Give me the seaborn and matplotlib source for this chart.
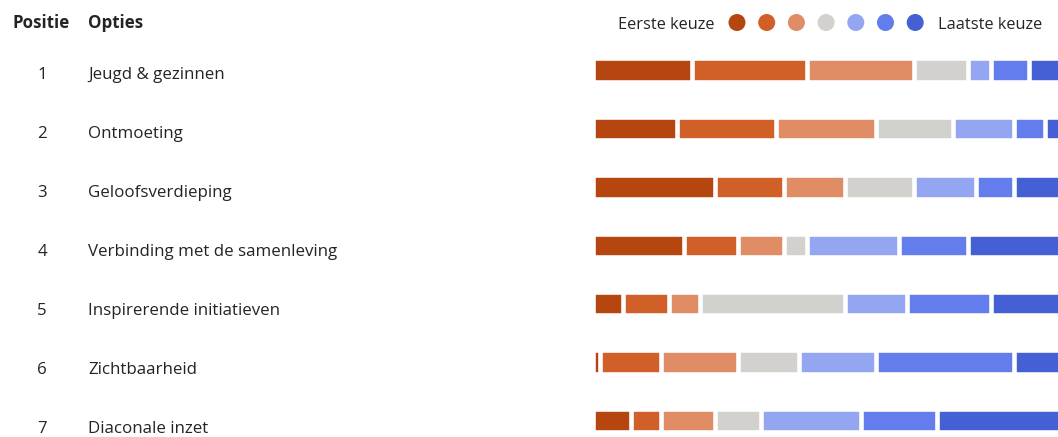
import numpy as np
import pandas as pd
import matplotlib
matplotlib.use("Agg")
import matplotlib.pyplot as plt
import seaborn as sns

# ---- data ----
positions = ["1", "2", "3", "4", "5", "6", "7"]
options = ["Jeugd & gezinnen", "Ontmoeting", "Geloofsverdieping",
           "Verbinding met de samenleving", "Inspirerende initiatieven",
           "Zichtbaarheid", "Diaconale inzet"]
rank1 = [13, 11, 16, 12, 4, 1, 5]
rank2 = [15, 13, 9, 7, 6, 8, 4]
rank3 = [14, 13, 8, 6, 4, 10, 7]
rank4 = [7, 10, 9, 3, 19, 8, 6]
rank5 = [3, 8, 8, 12, 8, 10, 13]
rank6 = [5, 4, 5, 9, 11, 18, 10]
rank7 = [5, 3, 7, 13, 10, 7, 17]
legend_left = "Eerste keuze"
legend_right = "Laatste keuze"
header_pos = "Positie"
header_opt = "Opties"

colors = ["#B54610", "#D06028", "#E08C64", "#D2D1CE", "#94A5F2", "#637DED", "#4560D4"]
text_color = "#252423"

W, H = 1058, 437
DPI = 100
sns.set_theme(style="white")
plt.rcParams['font.family'] = ['Open Sans', 'DejaVu Sans']

fig = plt.figure(figsize=(W / DPI, H / DPI), dpi=DPI)
fig.patch.set_facecolor("white")

x0_px = 592.5
unit_px = 7.665
row_px = 58.42
ax = fig.add_axes([x0_px / W, 0, 1 - x0_px / W, 1])

ranks = np.array([rank1, rank2, rank3, rank4, rank5, rank6, rank7])
cum = np.cumsum(ranks, axis=0)
df = pd.DataFrame({"option": options})
lw = 3.3
for k in range(6, -1, -1):
    df["cum"] = cum[k]
    sns.barplot(data=df, x="cum", y="option", order=options, orient="h",
                color=colors[k], saturation=1, width=0.40,
                edgecolor="white", linewidth=lw, ax=ax)

ax.set_xlim(0, (W - x0_px) / unit_px)
ax.set_ylim(6 + (H - 420.5) / row_px, -70 / row_px)
ax.axis("off")

# ---- text table ----
def ypx(p):
    return 1 - p / H

fs = 12.2
fig.text(12 / W, ypx(28.5), header_pos, fontsize=fs, fontweight="bold",
         color=text_color, ha="left", va="baseline")
fig.text(88 / W, ypx(28.5), header_opt, fontsize=fs, fontweight="bold",
         color=text_color, ha="left", va="baseline")
for i, (p, o) in enumerate(zip(positions, options)):
    yb = 79.2 + i * 59.05
    fig.text(42 / W, ypx(yb), p, fontsize=fs, color=text_color,
             ha="center", va="baseline")
    fig.text(88 / W, ypx(yb), o, fontsize=fs, color=text_color,
             ha="left", va="baseline")

# ---- legend ----
fig.text(715 / W, ypx(29), legend_left, fontsize=11.8, color=text_color,
         ha="right", va="baseline")
fig.text(938 / W, ypx(29), legend_right, fontsize=11.8, color=text_color,
         ha="left", va="baseline")
lax = fig.add_axes([0, 0, 1, 1], facecolor="none")
lax.set_xlim(0, W)
lax.set_ylim(H, 0)
lax.axis("off")
lx = [737 + i * 29.7 for i in range(len(colors))]
lax.scatter(lx, [22.5] * len(colors), s=150, c=colors, edgecolors="none")

fig.savefig("out.png", dpi=DPI, facecolor="white")
